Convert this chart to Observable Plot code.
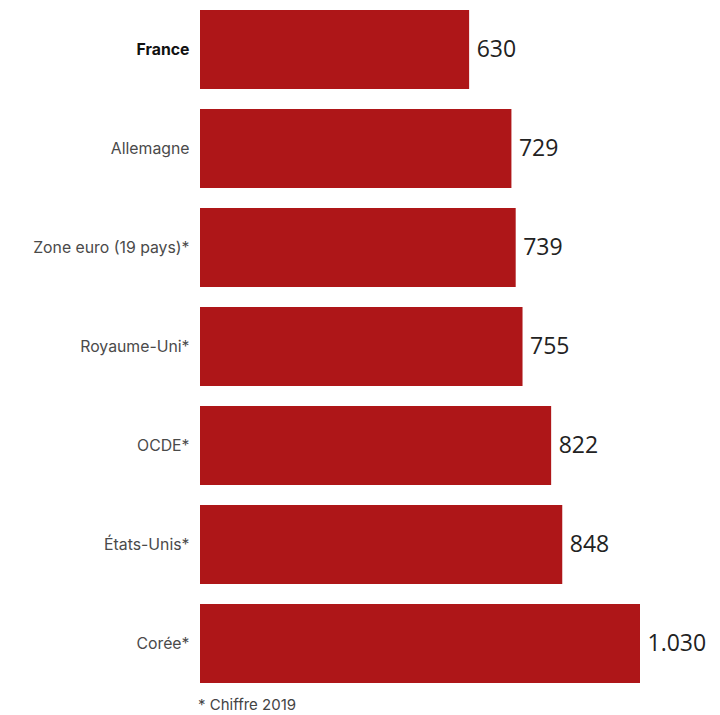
<!DOCTYPE html>
<html>
<head>
<meta charset="utf-8">
<script src="https://cdn.jsdelivr.net/npm/d3@7"></script>
<script src="https://cdn.jsdelivr.net/npm/@observablehq/plot@0.6"></script>
<style>
  body { margin: 0; background: #fff; }
  #caption { font-family: Inter, "Noto Sans", sans-serif; font-size: 15px; color: #444; padding-left: 198px; margin-top: 5px; line-height: 16px; }
</style>
</head>
<body>
<div id="chart"></div>
<div id="caption">* Chiffre 2019</div>
<script>
const countries = ["France", "Allemagne", "Zone euro (19 pays)*", "Royaume-Uni*", "OCDE*", "États-Unis*", "Corée*"];
const values = [630, 729, 739, 755, 822, 848, 1030];
const highlighted = ["France"];

const data = countries.map((c, i) => ({country: c, value: values[i]}));
const fr = d3.formatLocale({decimal: ",", thousands: ".", grouping: [3], currency: ["", " €"]});
const fmt = fr.format(",d");

const chart = Plot.plot({
  width: 720,
  height: 692,
  marginLeft: 200,
  marginRight: 80,
  marginTop: 8,
  marginBottom: 7,
  x: {domain: [0, 1030], axis: null},
  y: {domain: countries, paddingInner: 0.2, paddingOuter: 0, axis: null},
  style: {fontFamily: "Inter, 'Noto Sans', sans-serif", background: "#fff"},
  marks: [
    Plot.barX(data, {x: "value", y: "country", fill: "#AE1618"}),
    Plot.text(data, {x: "value", y: "country", text: d => fmt(d.value), textAnchor: "start", dx: 7, fontSize: 23, fill: "#222", fontFamily: "'Open Sans', sans-serif"}),
    Plot.text(data.filter(d => !highlighted.includes(d.country)), {x: 0, y: "country", text: "country", textAnchor: "end", dx: -11, fontSize: 15.8, fill: "#4a4a4a"}),
    Plot.text(data.filter(d => highlighted.includes(d.country)), {x: 0, y: "country", text: "country", textAnchor: "end", dx: -11, fontSize: 15.8, fill: "#111", fontWeight: "bold"})
  ]
});
document.getElementById("chart").appendChild(chart);
</script>
</body>
</html>
